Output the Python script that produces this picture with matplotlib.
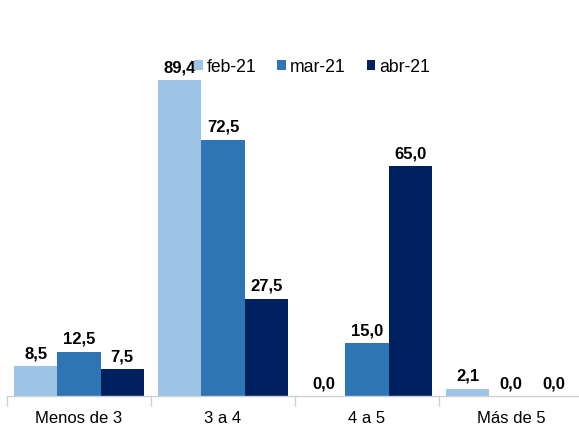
import matplotlib.pyplot as plt
import numpy as np
from matplotlib.patches import Patch

plt.rcParams['font.family'] = ['Liberation Sans', 'DejaVu Sans']

categories = ["Menos de 3", "3 a 4", "4 a 5", "Más de 5"]
series_names = ["feb-21", "mar-21", "abr-21"]
feb = [8.5, 89.4, 0.0, 2.1]
mar = [12.5, 72.5, 15.0, 0.0]
abr = [7.5, 27.5, 65.0, 0.0]
colors = ["#9DC3E6", "#2E75B6", "#002060"]

W, H = 579, 425
fig = plt.figure(figsize=(W / 100, H / 100), dpi=100)
# axes runs slightly past the right edge of the canvas
ax = fig.add_axes([7 / W, 29 / H, 576 / W, 353.5 / H])

x = np.arange(len(categories))
bw = 0.3
for i, (vals, c) in enumerate(zip([feb, mar, abr], colors)):
    pos = x + (i - 1) * bw
    ax.bar(pos, vals, width=bw, color=c, edgecolor='none')
    for p, v in zip(pos, vals):
        ax.annotate(f"{v:.1f}".replace('.', ','), (p, v), xytext=(0, 3.5),
                    textcoords='offset points', ha='center', va='bottom',
                    fontsize=12, fontweight='bold', color='black')

ax.set_xlim(-0.5, 3.5)
ax.set_ylim(0, 100)
ax.set_yticks([])
for s in ['top', 'right', 'left']:
    ax.spines[s].set_visible(False)
ax.spines['bottom'].set_color('#D0D0D0')
ax.spines['bottom'].set_linewidth(1)

ax.set_xticks(x)
ax.set_xticklabels(categories, fontsize=12)
ax.tick_params(axis='x', which='major', length=0, pad=11)
ax.set_xticks(np.arange(-0.5, 4.0, 1.0), minor=True)
ax.tick_params(axis='x', which='minor', length=7, color='#D0D0D0', width=1)

handles = [Patch(facecolor=c, edgecolor='none') for c in colors]
fig.legend(handles, series_names, loc='center', bbox_to_anchor=(312 / W, 1 - 67 / H),
           ncol=3, frameon=False, fontsize=12.7, handlelength=0.5, handleheight=0.5,
           handletextpad=0.2, columnspacing=1.2, borderaxespad=0, borderpad=0)

fig.savefig("out.png", dpi=100)
